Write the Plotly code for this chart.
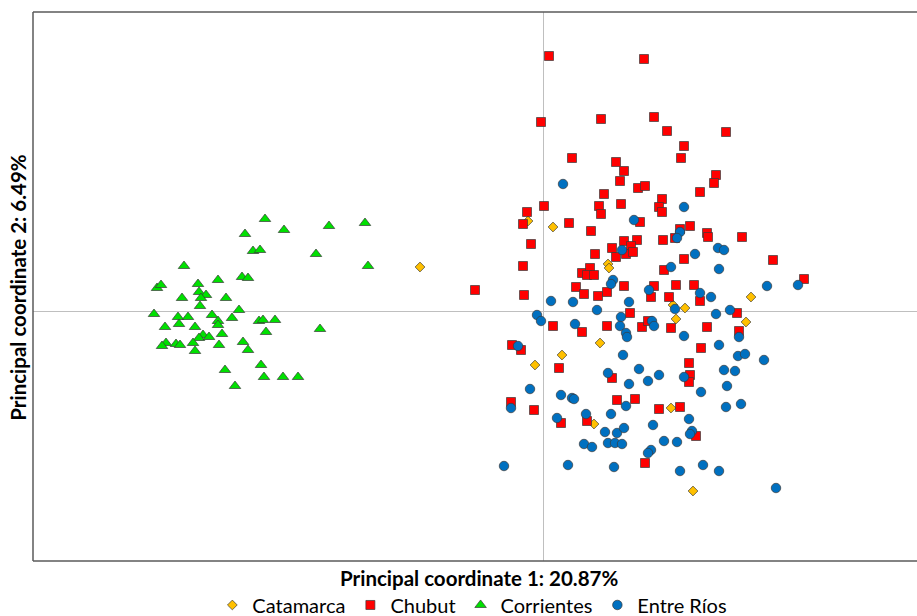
import plotly.graph_objects as go

# PCoA scores (arbitrary units)
catamarca_x = [-123, -15, 10, 65, 66, 130, 142, 133, 208, 203, 57, 19, -8, 128, 51, 150]
catamarca_y = [44, 90, 84, 47, 43, 6, 3, -8, 14, -11, -32, -44, -54, -97, -113, -180]

chubut_x = [6, 101, -2, 58, 111, 124, 183, 141, 138, 29, 73, 81, 77, 95, 102, 61, 119, 173, 171, 157,
            1, 56, 78, 116, 119, -16, -20, 58, 26, 48, 97, 147, 137, 164, 165, 199, -12, 69, 81, 94,
            88, 83, 90, 73, 52, 120, 132, 141, 230, -20, 121, 39, 47, 44, 51, -68, -19, 33, 41, 55,
            64, 81, 111, 133, 151, 108, 126, 157, 261, 87, 194, 10, 39, 64, 99, 105, 128, 164, 196, -31,
            -22, 158, 16, 69, 146, 147, 146, -32, -9, 74, 92, 116, 137, 18, 44, 153, 102]
chubut_y = [255, 252, 189, 192, 194, 180, 179, 165, 153, 153, 149, 140, 130, 123, 125, 117, 112, 136, 128, 119,
            105, 105, 107, 104, 99, 99, 87, 97, 88, 80, 89, 85, 82, 78, 74, 74, 67, 63, 70, 71,
            65, 57, 59, 54, 57, 71, 73, 52, 51, 45, 41, 38, 43, 36, 36, 21, 16, 24, 17, 15,
            19, 25, 25, 26, 26, 14, 14, 10, 32, -2, -2, -15, -21, -15, -16, -10, -17, -16, -20, -34,
            -39, -37, -57, -67, -52, -64, -71, -91, -99, -89, -88, -98, -96, -112, -110, -125, -152]

corrientes_x = [-278, -298, -259, -214, -178, -290, -283, -227, -359, -175, -386, -382, -345, -325, -301,
                -295, -361, -344, -337, -342, -317, -343, -389, -365, -355, -331, -304, -311, -325, -325,
                -364, -378, -348, -284, -280, -268, -223, -277, -321, -340, -344, -334, -377, -381, -367,
                -363, -350, -348, -324, -300, -295, -282, -318, -279, -260, -245, -308]
corrientes_y = [92, 77, 81, 85, 88, 60, 61, 57, 45, 45, 23, 26, 27, 31, 34,
                33, 13, 19, 16, 13, 13, 5, -3, -6, -6, -4, 1, -7, -10, -14,
                -13, -16, -16, -10, -9, -9, -18, -21, -23, -24, -27, -26, -32, -35, -33,
                -34, -32, -40, -34, -31, -39, -54, -59, -66, -66, -66, -75]

entre_rios_x = [20, 141, 91, 79, 137, 134, 175, 181, 152, 176, 128, 70, 68, 106, 224, 255, 157, 168, 8, 30,
                86, 54, 132, 173, 187, -6, -2, 32, 78, 77, 109, 111, 83, 84, 141, 196, 176, 195, 202, 221,
                181, 192, -25, 80, 65, 96, 86, 105, 116, 141, 184, 158, 183, 198, -13, 18, 29, 31, -32, 83,
                14, 43, 68, 146, 110, 62, 74, 81, 149, 147, 41, 49, 65, 72, 79, 121, 134, 108, 105, -39,
                25, 71, 137, 160, 176, 233]
entre_rios_y = [127, 104, 91, 61, 79, 73, 63, 61, 57, 42, 44, 31, 27, 21, 25, 26, 18, 14, 10, 9,
                9, 1, 2, -3, 1, -4, -10, -13, -6, -15, -10, -15, -22, -26, -25, -26, -34, -45, -43, -49,
                -59, -60, -35, -44, -62, -58, -73, -70, -64, -66, -75, -81, -96, -93, -78, -84, -87, -88, -97, -95,
                -107, -103, -103, -108, -114, -121, -122, -117, -120, -123, -133, -136, -132, -132, -133, -130, -131, -139, -142, -155,
                -154, -156, -160, -154, -160, -177]

x_range = [-510, 374]
y_range = [-250, 299]

edge = dict(color="#3a3a3a", width=0.7)

fig = go.Figure()
fig.add_trace(go.Scatter(x=catamarca_x, y=catamarca_y, mode="markers", name="Catamarca",
                         marker=dict(symbol="diamond", size=7.5, color="#FFC000", line=edge)))
fig.add_trace(go.Scatter(x=chubut_x, y=chubut_y, mode="markers", name="Chubut",
                         marker=dict(symbol="square", size=9, color="#FF0000", line=edge)))
fig.add_trace(go.Scatter(x=corrientes_x, y=corrientes_y, mode="markers", name="Corrientes",
                         marker=dict(symbol="triangle-up", size=10, color="#00E000", line=edge)))
fig.add_trace(go.Scatter(x=entre_rios_x, y=entre_rios_y, mode="markers", name="Entre Ríos",
                         marker=dict(symbol="circle", size=9.5, color="#0070C0", line=edge)))

axis_common = dict(showticklabels=False, showgrid=False, zeroline=True, zerolinecolor="#BFBFBF",
                   zerolinewidth=1, showline=False, ticks="", fixedrange=True)

border = dict(color="#5a5a5a", width=1.5)
fig.update_layout(
    width=917, height=616,
    margin=dict(l=33, r=0, t=12, b=55),
    paper_bgcolor="white", plot_bgcolor="white",
    xaxis=dict(range=x_range, **axis_common),
    yaxis=dict(range=y_range, **axis_common),
    font=dict(family="Lato, 'Open Sans', sans-serif", color="#000000"),
    showlegend=True,
    legend=dict(orientation="h", xref="paper", yref="container", x=0.497, xanchor="center",
                y=0.0179, yanchor="middle",
                font=dict(size=20), itemsizing="trace", tracegroupgap=0, itemwidth=30),
    shapes=[
        dict(type="line", xref="paper", yref="paper", x0=0, x1=0, y0=0, y1=1, line=border),
        dict(type="line", xref="paper", yref="paper", x0=0, x1=1, y0=1, y1=1, line=border),
        dict(type="line", xref="paper", yref="paper", x0=0, x1=1, y0=0, y1=0, line=border),
    ],
    annotations=[
        dict(text="<b>Principal coordinate 1: 20.87%</b>", xref="paper", yref="paper",
             x=0.5045, y=-0.031, xanchor="center", yanchor="middle", showarrow=False,
             font=dict(size=20.5)),
        dict(text="<b>Principal coordinate 2: 6.49%</b>", xref="paper", yref="paper",
             x=-0.017, y=0.4995, xanchor="center", yanchor="middle", showarrow=False,
             textangle=-90, font=dict(size=20.5)),
    ],
)

post = (
    "var s=document.createElement('style');"
    "s.innerHTML='html,body{margin:0;padding:0;overflow:hidden;}"
    ".plotly-graph-div{display:block;}';"
    "document.head.appendChild(s);"
)

fig.write_html("out.html", config={"displayModeBar": False}, post_script=post)
